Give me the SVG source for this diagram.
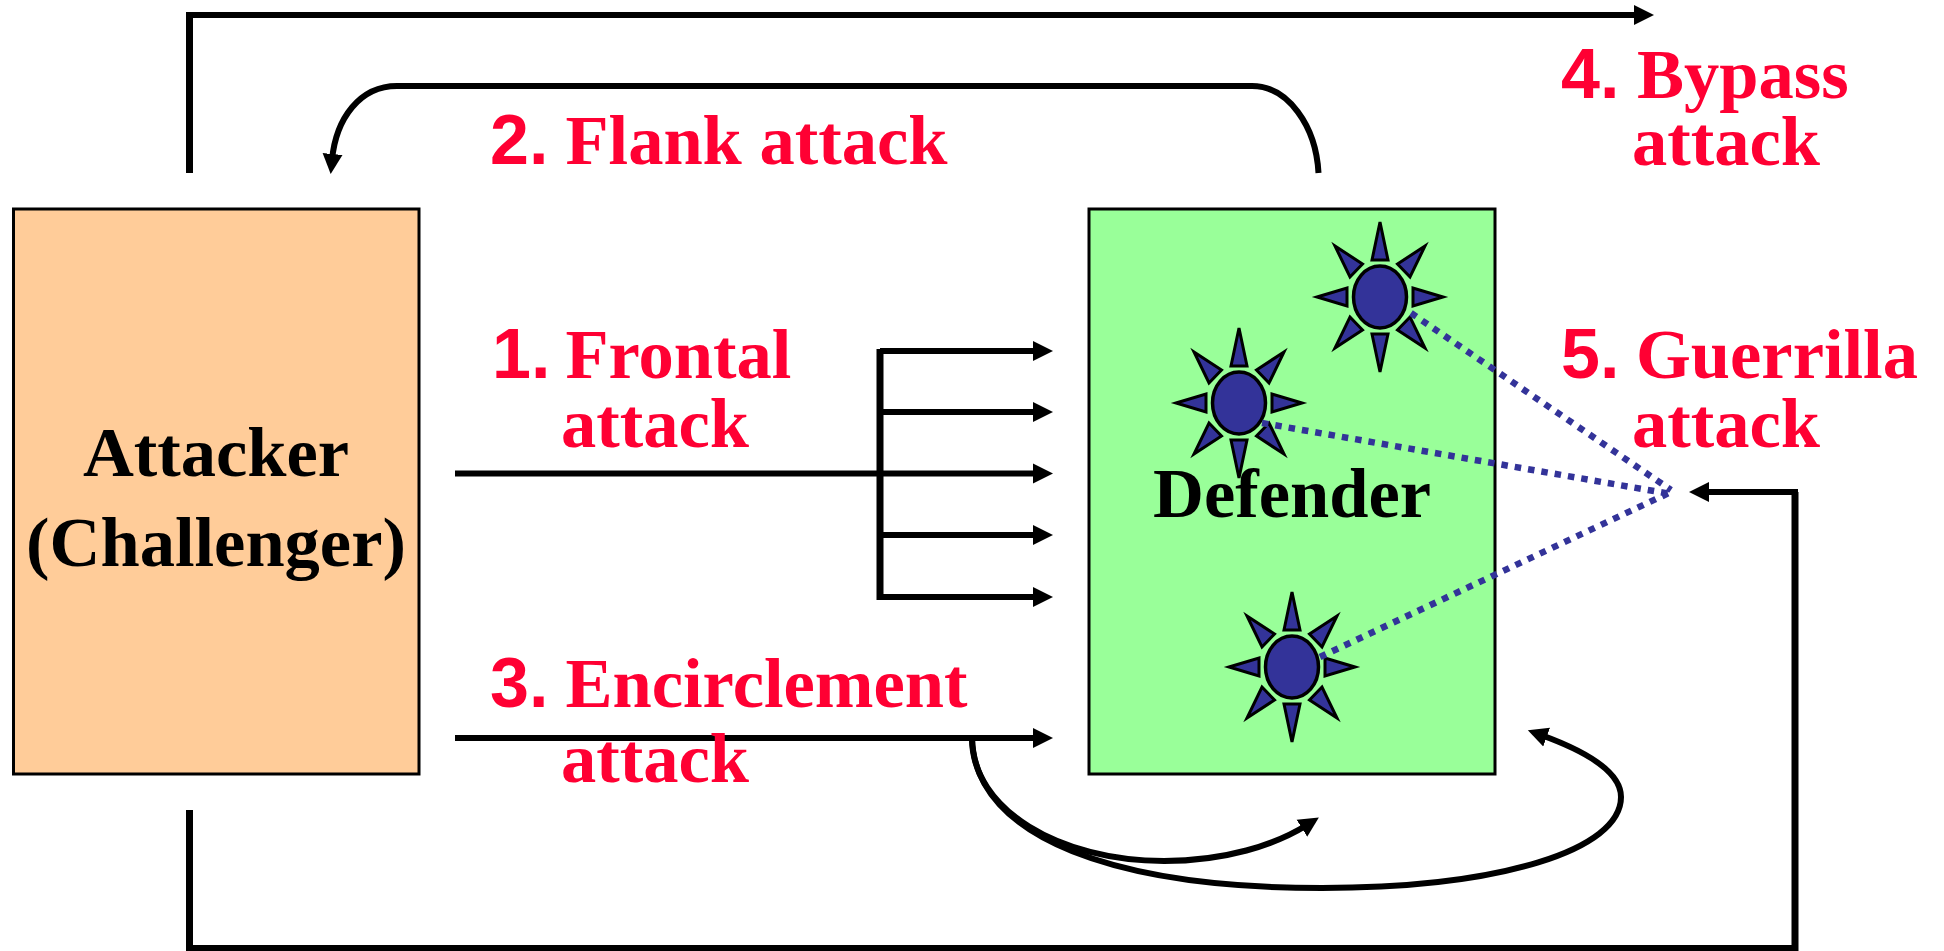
<svg xmlns="http://www.w3.org/2000/svg" width="1944" height="951" viewBox="0 0 1944 951">
<style>
.box{stroke:#000;stroke-width:3}
.ln{fill:none;stroke:#000;stroke-width:6}
.dot{fill:none;stroke:#333399;stroke-width:6.500;stroke-dasharray:6.500 7}
.ray{fill:#333399;stroke:#000;stroke-width:3;stroke-linejoin:miter}
text{font-family:"Liberation Serif","Times New Roman",serif;font-weight:bold;font-size:70.500px}
.k{fill:#000}
.r{fill:#FF0033}
.n{font-family:"Liberation Sans",Arial,sans-serif;font-size:70px}
</style>
<defs>
<marker id="ah" markerUnits="userSpaceOnUse" markerWidth="22" markerHeight="22" viewBox="0 0 22 22" refX="6" refY="11" orient="auto"><path d="M0,1 L20,11 L0,21 Z" fill="#000"/></marker>
<g id="sun">
<ellipse cx="0" cy="0" rx="26.500" ry="31" fill="#333399" stroke="#000" stroke-width="3.500"/>
<path class="ray" d="M0,-75 L8,-37 L-8,-37 Z"/>
<path class="ray" d="M0,75 L8,37 L-8,37 Z"/>
<path class="ray" d="M63,0 L33,-9 L33,9 Z"/>
<path class="ray" d="M-63,0 L-33,-9 L-33,9 Z"/>
<path class="ray" d="M45,-51 L17.500,-33 L30,-20 Z"/>
<path class="ray" d="M-45,-51 L-17.500,-33 L-30,-20 Z"/>
<path class="ray" d="M45,51 L17.500,33 L30,20 Z"/>
<path class="ray" d="M-45,51 L-17.500,33 L-30,20 Z"/>
</g>
</defs>
<rect width="1944" height="951" fill="#fff"/>
<g id="attacker">
<rect class="box" x="13.500" y="209" width="405.500" height="565" fill="#FFCC99"/>
<text class="k" x="216" y="476" text-anchor="middle">Attacker</text>
<text class="k" x="216" y="566" text-anchor="middle">(Challenger)</text>
</g>
<g id="defender">
<rect class="box" x="1089" y="209" width="406" height="565" fill="#99FF99"/>
<use href="#sun" x="1380" y="297"/>
<use href="#sun" x="1239" y="403"/>
<use href="#sun" x="1292" y="667"/>
<text class="k" x="1292" y="517" text-anchor="middle">Defender</text>
</g>
<g id="connectors">
<path class="ln" style="stroke-width:7" d="M189.500,173 V15"/>
<path class="ln" d="M186,15 H1640" marker-end="url(#ah)"/>
<path class="ln" d="M1318.500,173 C1316,126 1288,86 1252,86 H397 C360,86 336,118 332,160" marker-end="url(#ah)"/>
<path class="ln" d="M455,473.500 H1039" marker-end="url(#ah)"/>
<path class="ln" style="stroke-width:7" d="M880,349 V600"/>
<path class="ln" d="M880,351 H1039" marker-end="url(#ah)"/>
<path class="ln" d="M880,412 H1039" marker-end="url(#ah)"/>
<path class="ln" d="M880,535 H1039" marker-end="url(#ah)"/>
<path class="ln" d="M880,597 H1039" marker-end="url(#ah)"/>
<path class="ln" d="M455,738 H1039" marker-end="url(#ah)"/>
<path class="ln" d="M972,738 C972,810 1060,861 1164,861 C1225,861 1275,845 1307,825" marker-end="url(#ah)"/>
<path class="ln" d="M972,738 C975,840 1120,888 1322,888 C1500,888 1621,850 1621,797 C1621,773 1588,752 1541,735" marker-end="url(#ah)"/>
<path class="ln" style="stroke-width:7" d="M189.500,810 V948.500 H1795 V492"/>
<path class="ln" d="M1798,492 H1703" marker-end="url(#ah)"/>
<path class="dot" d="M1411,313 L1671,490"/>
<path class="dot" d="M1262,423 L1671,494"/>
<path class="dot" d="M1320,657 L1671,492"/>
</g>
<g id="labels">
<text class="r n" x="1561" y="98">4.</text><text class="r" x="1637" y="98">Bypass</text>
<text class="r" x="1632" y="165">attack</text>
<text class="r n" x="490" y="164">2.</text><text class="r" x="565.500" y="164">Flank attack</text>
<text class="r n" x="492" y="378">1.</text><text class="r" x="565.500" y="378">Frontal</text>
<text class="r" x="561" y="447">attack</text>
<text class="r n" x="1561" y="378">5.</text><text class="r" x="1636" y="378">Guerrilla</text>
<text class="r" x="1632" y="447">attack</text>
<text class="r n" x="490" y="707">3.</text><text class="r" x="565.500" y="707">Encirclement</text>
<text class="r" x="561" y="782">attack</text>
</g>
</svg>
